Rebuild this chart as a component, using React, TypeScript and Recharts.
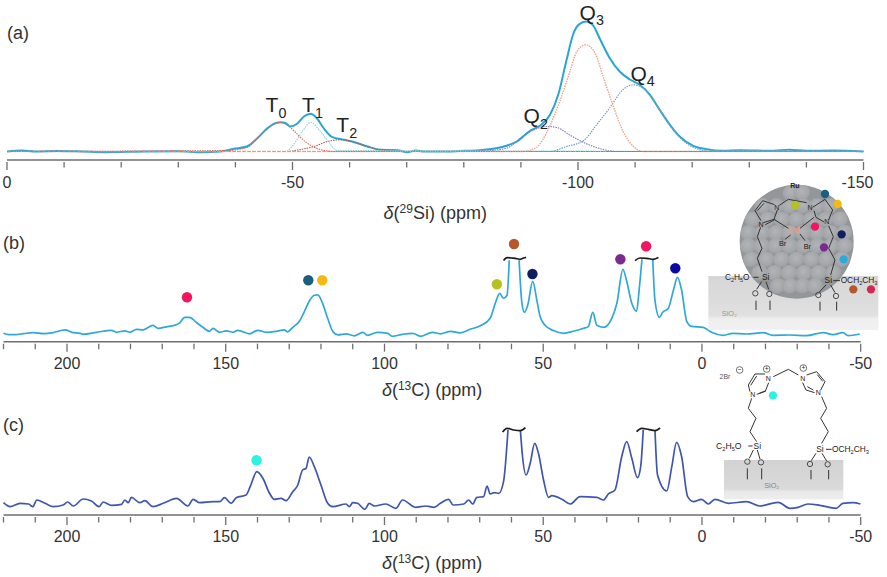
/**
 * NMR figure: (a) 29Si spectrum with fitted peaks, (b) and (c) 13C spectra with
 * assignment dots. Heights are in pixels above each baseline.
 */
import { Label, Line, LineChart, ReferenceDot, XAxis, YAxis } from "recharts";

const FONT = "'Liberation Sans', Arial, sans-serif";

// panel (a)
const ticksA = [0, -10, -20, -30, -40, -50, -60, -70, -80, -90, -100, -110, -120, -130, -140, -150];
const majorsA = [0, -50, -100, -150];
const ppmA = [0, -2.7, -5, -8.7, -13, -17, -24, -30, -34, -37.4, -39.7, -42, -43.8, -45.5, -46.7, -47.9, -48.8, -49.6, -50.8, -52, -53.2, -54.3, -55.5, -57, -59, -61, -63.1, -65.5, -68.4, -70.1, -71.6, -73, -75.8, -79.3, -82.8, -86.3, -89.3, -91.6, -93.3, -95.1, -96.6, -98, -99.2, -100.3, -101.5, -102.7, -103.8, -105.6, -107.3, -109.1, -110.8, -112.6, -114.3, -116.1, -117.8, -120.2, -122.5, -125.4, -128.4, -134.2, -136.9, -140, -144.7, -150];
const mainA = [0, 1, 0, 0.5, 0, -0.7, 0, 0.3, -0.7, 0, 2.7, 5, 13, 22.7, 27.7, 29.3, 28.3, 25, 27.7, 35, 37.7, 33, 23, 14.3, 11.7, 9, 5, 1.7, 1.3, -0.7, 1, 0, 0, 0.5, 1.3, 4, 10, 20.7, 25.7, 36.7, 58, 91.7, 118, 127.7, 130, 125.7, 113, 93, 80, 72, 66.7, 56.7, 41.7, 26.7, 15, 5.7, 2.3, 0.7, 1.3, 0.7, 1.7, 0.7, 1, 0];
const t0Ppm = [0, -38.5, -42, -43.8, -45.5, -46.7, -47.9, -49, -50.2, -51.4, -53.2, -54.9, -57.3, -150];
const t0Fit = [0, 1, 4, 13, 22, 27, 29, 27, 21, 14, 6, 2, 0, 0];
const t1Ppm = [0, -48.8, -50.2, -51.7, -53.2, -54.9, -56.4, -57.8, -150];
const t1Fit = [0, 0, 7, 20, 29, 20, 9, 1, 0];
const t2Ppm = [0, -49, -51.4, -53.8, -56.1, -58.4, -61, -63.1, -65.5, -67.8, -150];
const t2Fit = [0, 0, 2, 5, 10, 11.7, 9, 5, 1.5, 0, 0];
const q2Ppm = [0, -81.6, -87.4, -90.3, -92.4, -94.5, -96.3, -98.7, -101, -103.8, -106.8, -150];
const q2Fit = [0, 0, 3, 15, 22, 25, 24, 16, 9, 3, 0, 0];
const q3Ppm = [0, -90.3, -92.7, -95.1, -96.8, -98.7, -99.8, -101.4, -103, -104.4, -106.2, -107.9, -109.7, -111.5, -150];
const q3Fit = [0, 0, 4, 26, 50, 82, 100, 106.7, 98, 75, 45, 20, 5, 0, 0];
const q4Ppm = [0, -95.1, -98, -101, -103.3, -105.6, -107.9, -109.7, -111.5, -113.8, -116.1, -118.4, -120.7, -123.6, -150];
const q4Fit = [0, 0, 5, 11, 27, 44, 62, 66.7, 63, 46, 26, 11, 3, 0, 0];
const peakNames = ["T", "T", "T", "Q", "Q", "Q"];
const peakSubs = ["0", "1", "2", "2", "3", "4"];
const peakPpm = [-47.1, -53.5, -59.5, -92.6, -102.4, -111.3];
const peakHeights = [46.5, 46.5, 26.5, 35.8, 139, 78];

// panels (b) and (c) share one axis
const ticksC13 = [220, 210, 200, 190, 180, 170, 160, 150, 140, 130, 120, 110, 100, 90, 80, 70, 60, 50, 40, 30, 20, 10, 0, -10, -20, -30, -40, -50];
const majorsC13 = [200, 150, 100, 50, 0, -50];

// panel (b)
const ppmB = [220, 218.4, 216.3, 213.7, 210.6, 207.4, 204.3, 200.6, 198.5, 195.9, 194.9, 190.7, 186, 184.4, 181.8, 180.2, 178.1, 176, 172.9, 171.3, 168.7, 166.1, 164.5, 162.9, 161.4, 159.3, 157.2, 155.1, 154, 151.9, 149.8, 147.7, 146.2, 142.5, 139.9, 137.3, 134.1, 131.5, 130.5, 128.9, 126.8, 125.2, 123.7, 122.1, 121, 119.5, 117.9, 116.3, 114.7, 112.1, 109.5, 106.8, 105.3, 102.2, 99, 97.5, 94.3, 91.2, 88.6, 84.9, 82.4, 79.2, 76.1, 73, 69.8, 66.7, 65.1, 63.7, 62.5, 61.4, 60.7, 59.2, 57.6, 56.7, 55.9, 54.9, 53.3, 52, 51, 49.4, 46.8, 43.6, 40.5, 37.3, 35.8, 34.4, 33.1, 31, 28.4, 26.8, 24.9, 23.7, 22.1, 20.6, 19.8, 18.9, 17.2, 15.5, 14.8, 13.4, 12.4, 10.6, 9, 7.7, 6.4, 4.8, 3.3, -0.4, -3, -6.7, -9.8, -14, -19.3, -22.4, -27.7, -32.9, -38.2, -41.3, -44.4, -46, -49.7];
const lineB = [0, -1.3, -1.3, -0.3, 0.7, -0.3, 0.7, 3.5, 1, 0, -1, 1, 3, 1, 2.5, 1, 4, 3.5, 8, 5, 6.5, 8, 10.5, 16, 16, 11, 6, 2, 5, 1, 2.5, 1, 3, -0.5, 3, 1, 2, 3.5, 1.5, 6, 12, 22, 32, 38, 38.5, 30, 15, 2, -1.5, -0.5, -2.5, 1, -2, 1, 0, -3, -1, 0, -3, 1, -0.5, 2, 0.5, 4, 7.5, 15, 30, 40, 35, 38, 73, null, 73, 30, 21, 28, 52, 33, 17, 8, 2.7, 0, 2, 5, 6.7, 21, 8, 6, 15, 30, 64, 52, 30, 22, 43, 74, null, 74, 33, 16, 21, 25, 43, 56, 43, 12, 7, 6, 1, -2, 0, -0.7, 0.7, -2, -1.7, -2.3, 0.7, -1.3, 0.7, -2.3, -0.7];
const braceB1Ppm = [62.5, 61.4, 59.9, 58.8, 57.2, 56.2, 55.4];
const braceB1 = [72.7, 75.7, 75.3, 75, 74, 75.3, 76];
const braceB2Ppm = [21.1, 19.5, 17.4, 15.3, 13.7];
const braceB2 = [72.7, 75.3, 75, 74, 75.7];
const dotPpmB = [162.2, 124, 119.6, 64.6, 59.2, 53.4, 25.7, 17.6, 8.4];
const dotHeightB = [36, 53, 53, 49, 89.3, 59.3, 74, 87, 65];
const dotColorB = ["#f5145f", "#1a5f80", "#f5b914", "#b8c020", "#b5582a", "#10205c", "#7a2a90", "#f5145f", "#0a0aa0"];

// panel (c)
const ppmC = [220, 217.9, 214.8, 212.1, 210.8, 209.5, 206.9, 204.3, 201.2, 199.8, 198, 194.9, 192.3, 189.9, 188.6, 186, 182.8, 181.8, 180.7, 179.7, 177.1, 175.5, 172.9, 169.7, 165.5, 161.9, 160.3, 158.2, 154, 151.9, 150.4, 148.3, 146.7, 143.6, 142.3, 140.2, 138.3, 136.2, 134.7, 132.6, 131, 128.9, 127.3, 125.8, 124.7, 123.7, 122.1, 120, 117.9, 116.3, 112.1, 111.1, 110, 108.5, 106.2, 104.8, 103.2, 99.6, 96.4, 94.3, 90.2, 87, 84.4, 82.4, 79.8, 78.4, 75, 73.5, 72.2, 70.9, 68.8, 67.7, 66.7, 65.4, 64, 62.5, 61.1, 59.2, 57.2, 56.5, 55.4, 54.1, 52.7, 51.5, 49.9, 48.3, 47.3, 44.1, 41.5, 38.4, 33.1, 31, 29.5, 27.4, 25.3, 23.7, 22.1, 20.3, 19.3, 18.5, 16.6, 14.8, 14, 11.1, 9.5, 8, 6.4, 4.5, 2.7, 0.1, -2, -4.1, -8.3, -14, -18.2, -24, -27.7, -30.3, -33.4, -37.1, -42.3, -44.4, -47.6, -49.9];
const lineC = [2.3, -1.7, 1.7, 1, -1.7, 5, 1.7, -1.7, 0, 3, -1, 6, 4, -1.7, 3, -0.3, 0.7, 5, 2.3, 7.7, 2.3, 4.3, -1.7, 1.7, 6.7, -1, 5.7, 2.3, 3.3, 3.3, 7.3, 1.7, 7.3, 10, 18.3, 33.3, 26.7, 11.7, 5.7, 6.7, 4.3, 13.3, 20, 35, 36.7, 48, 38.3, 20, 1.7, -1.7, 1, -1.7, 2.3, 1.7, -4.3, 1.7, -1, 1, -3.3, 5, -2.3, -1, -2.3, 1.7, 5.7, 0, 1, 5, 1, 7.7, 8.3, 19, 11, 12.3, 11.7, 23.3, 75, null, 75, 48, 30, 41.7, 61.7, 51.7, 25, 7.7, 9.3, 5.7, 1, 8.3, 7.7, 5, 11, 15, 48, 63.3, 46.7, 27.3, 38.3, 75, null, 75, 30, 14, 38.3, 62.7, 48.3, 8.3, 3.3, 5.7, 1, 5.7, 1.7, 3.3, -1, 2.7, -3.3, -2.3, 1, -0.3, -3.3, 1.7, 2.3, 1];
const braceC1Ppm = [62.8, 61.4, 59.3, 57.2, 55.6];
const braceC1 = [73, 76.7, 75, 74.3, 77.3];
const braceC2Ppm = [20.6, 19, 16.9, 14.8, 13.2];
const braceC2 = [73.3, 76.7, 75.7, 74.3, 77];
const dotPpmC = [140.3];
const dotHeightC = [44.7];
const dotColorC = ["#2ef2e0"];

const pts = (xs: number[], ys: (number | null)[]) => xs.map((x, i) => ({ x, y: ys[i] }));

const lineProps = { dataKey: "y", dot: false, activeDot: false, isAnimationActive: false, type: "monotone" as const };

// tick mark + label, majors get a longer mark and a number
function NmrTick({ x, y, payload, majors, textY, shift = {} }: any) {
  const major = majors.includes(payload.value);
  return (
    <g>
      <line x1={x} x2={x} y1={y} y2={y + (major ? 8 : 5.5)} stroke="#6f6f6f" strokeWidth={1.3} />
      {major && (
        <text x={x + (shift[payload.value] ?? 0)} y={y + textY} textAnchor="middle" fontSize={16} fontFamily={FONT} fill="#333">
          {payload.value}
        </text>
      )}
    </g>
  );
}

function AxisTitle({ viewBox, nucleus, mass, dy }: any) {
  const { x, y, width } = viewBox;
  return (
    <text x={x + width / 2} y={y + dy} textAnchor="middle" fontSize={18} fontFamily={FONT} fill="#333">
      <tspan fontStyle="italic">δ</tspan>
      <tspan>(</tspan>
      <tspan fontSize={12} dy={-6}>{mass}</tspan>
      <tspan dy={6}>{nucleus}) (ppm)</tspan>
    </text>
  );
}

function Sub({ x, y, name, sub, size = 21, color = "#222" }: any) {
  return (
    <text x={x} y={y} textAnchor="middle" fontSize={size} fontFamily={FONT} fill={color}>
      <tspan>{name}</tspan>
      <tspan fontSize={size * 0.68} dy={size * 0.28}>{sub}</tspan>
    </text>
  );
}

function PanelA() {
  return (
    <LineChart
      width={887}
      height={225}
      data={pts(ppmA, mainA)}
      margin={{ top: 11.5, right: 23.5, bottom: 35, left: 7 }}
      style={{ position: "absolute", left: 0, top: 0 }}
    >
      <XAxis
        dataKey="x"
        type="number"
        domain={[-150, 0]}
        reversed
        ticks={ticksA}
        interval={0}
        tickSize={0}
        stroke="#6f6f6f"
        strokeWidth={1.5}
        tick={(p: any) => <NmrTick {...p} majors={majorsA} textY={26} shift={{ "-150": -6 }} />}
      >
        <Label content={(p: any) => <AxisTitle {...p} nucleus="Si" mass="29" dy={59} />} />
      </XAxis>
      <YAxis hide domain={[-8.5, 140]} />
      <Line {...lineProps} stroke="#2aa5d3" strokeWidth={2} />
      <Line {...lineProps} data={pts(t2Ppm, t2Fit)} stroke="#a8604f" strokeWidth={1.1} strokeDasharray="1.5 1" />
      <Line {...lineProps} data={pts(t1Ppm, t1Fit)} stroke="#7fd6dc" strokeWidth={1.1} strokeDasharray="1.5 1" />
      <Line {...lineProps} data={pts(q2Ppm, q2Fit)} stroke="#7d78c4" strokeWidth={1.1} strokeDasharray="1.5 1" />
      <Line {...lineProps} data={pts(q4Ppm, q4Fit)} stroke="#6f9fbe" strokeWidth={1.2} strokeDasharray="1.5 1" />
      <Line {...lineProps} data={pts(q3Ppm, q3Fit)} stroke="#f0a48c" strokeWidth={1.4} strokeDasharray="1.5 1" />
      <Line {...lineProps} data={pts(t0Ppm, t0Fit)} stroke="#de6a58" strokeWidth={1.1} strokeDasharray="1.5 1" />
      {peakPpm.map((ppm, i) => (
        <ReferenceDot
          key={i}
          x={ppm}
          y={peakHeights[i]}
          r={0}
          shape={(p: any) => <Sub x={p.cx} y={p.cy + 7} name={peakNames[i]} sub={peakSubs[i]} />}
        />
      ))}
    </LineChart>
  );
}

function CarbonPanel({ top, height, marginTop, marginBottom, floor, xs, ys, color, braces, dotX, dotY, dotC, titleDy, textY }: any) {
  return (
    <LineChart
      width={887}
      height={height}
      data={pts(xs, ys)}
      margin={{ top: marginTop, right: 26.3, bottom: marginBottom, left: 3.5 }}
      style={{ position: "absolute", left: 0, top }}
    >
      <XAxis
        dataKey="x"
        type="number"
        domain={[-50, 220]}
        reversed
        ticks={ticksC13}
        interval={0}
        tickSize={0}
        stroke="#6f6f6f"
        strokeWidth={1.5}
        tick={(p: any) => <NmrTick {...p} majors={majorsC13} textY={textY} />}
      >
        <Label content={(p: any) => <AxisTitle {...p} nucleus="C" mass="13" dy={titleDy} />} />
      </XAxis>
      <YAxis hide domain={[floor, 110]} />
      <Line {...lineProps} stroke={color} strokeWidth={1.7} />
      {braces.map((b: any, i: number) => (
        <Line key={i} {...lineProps} data={b} stroke="#1c1c1c" strokeWidth={1.7} />
      ))}
      {dotX.map((ppm: number, i: number) => (
        <ReferenceDot key={i} x={ppm} y={dotY[i]} r={5.2} fill={dotC[i]} stroke="none" />
      ))}
    </LineChart>
  );
}

const sphereRows = [-145, -105, -65, -25, 15, 55, 95, 135];
const insetDotsB = [
  [375, 72, "#1a5f80"], [413, 102, "#f5b914"], [285, 105, "#b8c020"], [345, 170, "#f5145f"],
  [425, 193, "#10205c"], [372, 232, "#7a2a90"], [431, 268, "#2aa8e0"], [460, 358, "#b5582a"], [513, 358, "#d02a50"],
] as const;

function Sphere() {
  const bumps: any[] = [];
  sphereRows.forEach((dy, r) => {
    const half = Math.sqrt(Math.max(0, 146 * 146 - dy * dy));
    const n = Math.max(1, Math.round((2 * half) / 42));
    for (let i = 0; i <= n; i++) {
      const cx = 290 - half + (2 * half * i) / n;
      bumps.push(<circle key={`${r}-${i}`} cx={cx} cy={215 + dy} r={25} fill="url(#bump)" />);
    }
  });
  return (
    <g>
      <circle cx={290} cy={215} r={171} fill="#94979a" />
      {bumps}
    </g>
  );
}

// hand drawn structures, in zoomed (3x) picture coordinates
function InsetB() {
  const t = { fontFamily: FONT, fill: "#222" };
  return (
    <g transform="translate(700 170) scale(0.3333)">
      <rect x={25} y={318} width={510} height={162} fill="url(#silica1)" />
      <Sphere />
      <text x={285} y={55} textAnchor="middle" fontSize={21} fontWeight="bold" {...t}>Ru</text>
      <g fill="none" stroke="#333" strokeWidth={3}>
        <path d="M183 152 L165 122 L188 92 L224 104 M172 122 L192 100" />
        <path d="M232 120 L222 148 L190 158 M226 148 L196 164 M225 150 L265 175" />
        <path d="M238 106 L265 88 L320 98" />
        <path d="M338 112 L375 88 L398 120 L386 150 M342 122 L348 142 L372 156 M342 142 L300 175" />
        <path d="M182 172 L172 200 L186 235 L172 265 L186 305" />
        <path d="M386 168 L400 200 L386 235 L405 270 L392 315" />
        <path d="M272 195 L255 208 M300 192 L315 212" />
        <path d="M160 322 L176 322 M400 332 L420 332" />
        <path d="M185 335 L170 358 M198 335 L206 358 M378 345 L358 366 M392 345 L405 368" />
        <path d="M168 392 V420 M210 392 V420 M360 395 V422 M410 395 V422" />
      </g>
      <text x={230} y={120} textAnchor="middle" fontSize={21} {...t}>N</text>
      <text x={183} y={170} textAnchor="middle" fontSize={21} {...t}>N</text>
      <text x={330} y={120} textAnchor="middle" fontSize={21} {...t}>N</text>
      <text x={380} y={162} textAnchor="middle" fontSize={21} {...t}>N</text>
      <text x={283} y={188} textAnchor="middle" fontSize={25} fontFamily={FONT} fill="#e8a080">Pd</text>
      <text x={248} y={228} textAnchor="middle" fontSize={22} {...t}>Br</text>
      <text x={322} y={236} textAnchor="middle" fontSize={22} {...t}>Br</text>
      <text x={75} y={330} fontSize={25} {...t}>
        C<tspan fontSize={16} dy={6}>2</tspan><tspan dy={-6}>H</tspan><tspan fontSize={16} dy={6}>5</tspan><tspan dy={-6}>O</tspan>
      </text>
      <text x={197} y={330} textAnchor="middle" fontSize={25} {...t}>Si</text>
      <text x={385} y={340} textAnchor="middle" fontSize={25} {...t}>Si</text>
      <text x={422} y={340} fontSize={25} {...t}>
        OCH<tspan fontSize={17} dy={6}>2</tspan><tspan dy={-6}>CH</tspan><tspan fontSize={17} dy={6}>3</tspan>
      </text>
      {[[166, 370], [208, 372], [355, 375], [408, 378]].map(([x, y]) => (
        <circle key={x} cx={x} cy={y} r={8} fill="none" stroke="#333" strokeWidth={2.5} />
      ))}
      <text x={88} y={437} textAnchor="middle" fontSize={22} fontFamily={FONT} fill="#999">SiO₂</text>
      {insetDotsB.map(([x, y, c]) => (
        <circle key={x} cx={x} cy={y} r={12.5} fill={c} />
      ))}
    </g>
  );
}

function InsetC() {
  const t = { fontFamily: FONT, fill: "#222" };
  return (
    <g transform="translate(700 360) scale(0.3333)">
      <rect x={72} y={300} width={358} height={118} fill="url(#silica2)" />
      <g fill="none" stroke="#333" strokeWidth={3}>
        <path d="M195 42 L165 42 L145 75 L150 95 M152 76 L170 48" />
        <path d="M206 68 L196 94 L170 103 M198 92 L178 100" />
        <path d="M220 50 L265 28 L295 45" />
        <path d="M320 45 L350 35 L375 65 L362 90 M352 44 L368 64" />
        <path d="M308 68 L318 90 L344 98 M322 80 L340 90" />
        <path d="M155 115 L145 145 L168 175 L150 215 L170 245" />
        <path d="M365 110 L380 145 L362 175 L385 215 L365 250" />
        <path d="M145 258 L158 258 M378 268 L395 268" />
        <path d="M160 270 L148 295 M172 270 L180 297 M348 280 L334 302 M366 280 L380 303" />
        <path d="M142 325 V358 M185 325 V358 M333 330 V358 M386 330 V358" />
        <circle cx={119} cy={30} r={10} strokeWidth={2} />
        <circle cx={200} cy={27} r={10} strokeWidth={2} />
        <circle cx={310} cy={24} r={10} strokeWidth={2} />
      </g>
      <text x={75} y={58} textAnchor="middle" fontSize={21} fontFamily={FONT} fill="#555">2Br</text>
      <text x={119} y={37} textAnchor="middle" fontSize={20} {...t}>−</text>
      <text x={200} y={34} textAnchor="middle" fontSize={20} {...t}>+</text>
      <text x={310} y={31} textAnchor="middle" fontSize={20} {...t}>+</text>
      <text x={205} y={64} textAnchor="middle" fontSize={21} {...t}>N</text>
      <text x={158} y={112} textAnchor="middle" fontSize={21} {...t}>N</text>
      <text x={308} y={64} textAnchor="middle" fontSize={21} {...t}>N</text>
      <text x={355} y={106} textAnchor="middle" fontSize={21} {...t}>N</text>
      <text x={48} y={266} fontSize={26} {...t}>
        C<tspan fontSize={17} dy={6}>2</tspan><tspan dy={-6}>H</tspan><tspan fontSize={17} dy={6}>5</tspan><tspan dy={-6}>O</tspan>
      </text>
      <text x={172} y={266} textAnchor="middle" fontSize={25} {...t}>Si</text>
      <text x={360} y={276} textAnchor="middle" fontSize={25} {...t}>Si</text>
      <text x={396} y={276} fontSize={25} {...t}>
        OCH<tspan fontSize={17} dy={6}>2</tspan><tspan dy={-6}>CH</tspan><tspan fontSize={17} dy={6}>3</tspan>
      </text>
      {[[142, 305], [183, 307], [330, 312], [383, 313]].map(([x, y]) => (
        <circle key={x} cx={x} cy={y} r={8} fill="none" stroke="#333" strokeWidth={2.5} />
      ))}
      <text x={215} y={384} textAnchor="middle" fontSize={22} fontFamily={FONT} fill="#888">SiO₂</text>
      <circle cx={219} cy={106} r={12.5} fill="#2ef2e0" />
    </g>
  );
}

function Overlay() {
  return (
    <svg width={887} height={577} style={{ position: "absolute", left: 0, top: 0, pointerEvents: "none" }}>
      <defs>
        <radialGradient id="bump" cx="45%" cy="38%" r="62%">
          <stop offset="0%" stopColor="#b2b4b7" />
          <stop offset="72%" stopColor="#a3a6a9" />
          <stop offset="100%" stopColor="#8c8f92" />
        </radialGradient>
        <linearGradient id="silica1" x1="0" x2="0" y1="0" y2="1">
          <stop offset="0%" stopColor="#d6d6d6" />
          <stop offset="72%" stopColor="#e0e0e0" />
          <stop offset="80%" stopColor="#efefef" />
          <stop offset="100%" stopColor="#f1f1f1" />
        </linearGradient>
        <linearGradient id="silica2" x1="0" x2="0" y1="0" y2="1">
          <stop offset="0%" stopColor="#d2d2d2" />
          <stop offset="74%" stopColor="#dadada" />
          <stop offset="80%" stopColor="#e9e9e9" />
          <stop offset="100%" stopColor="#ededed" />
        </linearGradient>
      </defs>
      <text x={7} y={39} fontSize={18} fontFamily={FONT} fill="#333">(a)</text>
      <text x={3} y={249} fontSize={18} fontFamily={FONT} fill="#333">(b)</text>
      <text x={3} y={431} fontSize={18} fontFamily={FONT} fill="#333">(c)</text>
      <InsetB />
      <InsetC />
    </svg>
  );
}

export default function App() {
  return (
    <div style={{ position: "absolute", left: 0, top: 0, width: 887, height: 577, background: "#fff", overflow: "hidden" }}>
      <PanelA />
      <CarbonPanel
        top={200}
        height={200}
        marginTop={23.3}
        marginBottom={28.3}
        floor={-8.4}
        xs={ppmB}
        ys={lineB}
        color="#2fa8d8"
        braces={[pts(braceB1Ppm, braceB1), pts(braceB2Ppm, braceB2)]}
        dotX={dotPpmB}
        dotY={dotHeightB}
        dotC={dotColorB}
        titleDy={54}
        textY={25}
      />
      <CarbonPanel
        top={380}
        height={195}
        marginTop={15}
        marginBottom={30}
        floor={-10}
        xs={ppmC}
        ys={lineC}
        color="#4056ad"
        braces={[pts(braceC1Ppm, braceC1), pts(braceC2Ppm, braceC2)]}
        dotX={dotPpmC}
        dotY={dotHeightC}
        dotC={dotColorC}
        titleDy={54}
        textY={25}
      />
      <Overlay />
    </div>
  );
}
